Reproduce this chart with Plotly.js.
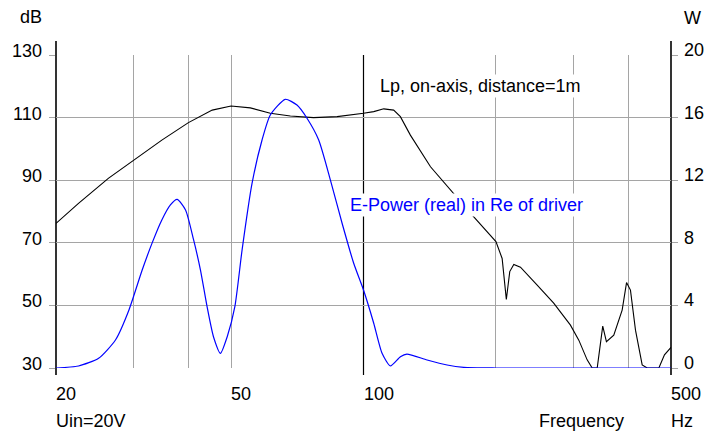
<!DOCTYPE html>
<html>
<head>
<meta charset="utf-8">
<script src="https://cdn.plot.ly/plotly-3.0.1.min.js"></script>
<style>
  html, body { margin: 0; padding: 0; background: #fff; }
  #chart { width: 706px; height: 432px; }
</style>
</head>
<body>
<div id="chart"></div>
<script>
// Sound pressure level, on-axis, 1 m (left axis, dB)
const lpFreq = [20, 22.5, 26.3, 30, 34.8, 40, 45.3, 50, 55.3, 61.4, 68.2, 77.0, 87.1, 100, 105.5, 111.2, 117.1, 121.3, 127.8, 142.0, 157.6, 178.1, 200, 206.6, 211.2, 215.0, 219.6, 227.4, 248.2, 270.6, 295.4, 308.6, 322.4, 331.0, 339.8, 349.8, 356.6, 370.6, 387.2, 396.2, 404.4, 415.2, 430.0, 441.4, 469.2, 483.2, 500];
const lpDb   = [76.2, 82.6, 90.6, 96.2, 102.8, 108.4, 112.4, 113.7, 113.1, 111.4, 110.5, 110.0, 110.3, 111.4, 111.9, 112.8, 112.4, 110.3, 104.4, 94.3, 86.9, 78.3, 70.4, 65.0, 51.9, 60.8, 63.1, 62.2, 56.5, 50.7, 43.7, 38.9, 32.6, 30, 30, 43.4, 38.4, 40.5, 48.5, 57.3, 54.9, 42.1, 31.0, 30, 30, 34.2, 36.6];

// Electrical power (real) in Re of driver (right axis, W)
const pwrFreq = [20, 22.5, 25.0, 27.3, 29.3, 31.4, 33.1, 34.8, 36.4, 37.7, 39.4, 41.1, 42.6, 44.1, 45.6, 47.3, 49.0, 51.0, 53.0, 55.8, 58.8, 61.4, 66.4, 70.6, 74.4, 79.1, 84.1, 89.4, 95.0, 100, 105.5, 110.2, 115.1, 121.3, 125.5, 139.5, 154.9, 169, 200, 300, 400, 500];
const pwrW   = [0, 0.13, 0.62, 1.79, 3.71, 6.26, 8.01, 9.46, 10.42, 10.78, 10.1, 8.18, 6.26, 3.92, 2.0, 0.94, 2.0, 3.92, 7.6, 11.8, 14.57, 16.17, 17.17, 16.8, 15.96, 14.57, 12.01, 9.25, 6.69, 4.98, 2.86, 0.94, 0.13, 0.72, 0.89, 0.51, 0.19, 0.04, 0, 0, 0, 0];

// Axes
const xRange = [20, 500];
const xGrid = [30, 40, 50, 200, 300, 400];
const xBlack = [20, 100, 500];
const xLabels = [20, 50, 100, 500];
const dbTicks = [30, 50, 70, 90, 110, 130];
const wTicks = [0, 4, 8, 12, 16, 20];

const FONT = 'Liberation Sans, Arial, Helvetica, sans-serif';
const FS = 18;
const L = Math.log10;
const GRID = 'rgb(165,165,165)';
const xFrac = f => (L(f) - L(xRange[0])) / (L(xRange[1]) - L(xRange[0]));

const traces = [
  { x: lpFreq, y: lpDb, type: 'scatter', mode: 'lines', yaxis: 'y',
    line: { color: '#000', width: 1.1 }, hoverinfo: 'skip', showlegend: false },
  { x: pwrFreq, y: pwrW, type: 'scatter', mode: 'lines', yaxis: 'y2',
    line: { color: '#0000ff', width: 1.2, shape: 'spline', smoothing: 0.6 }, hoverinfo: 'skip', showlegend: false }
];

const shapes = xBlack.map(f => ({
  type: 'line', xref: 'paper', yref: 'paper', x0: xFrac(f), x1: xFrac(f),
  y0: -7 / 313, y1: (f === 100) ? 1 : 1 + 14 / 313,
  line: { color: '#000', width: (f === 100) ? 1.2 : 1.6 }, layer: 'below'
}));

const ann = [];
const txt = (o) => Object.assign({ showarrow: false, font: { family: FONT, size: FS, color: '#000' } }, o);
dbTicks.forEach(v => ann.push(txt({ text: String(v), xref: 'paper', x: 0, xanchor: 'right', xshift: -12,
  yref: 'y', y: v, yanchor: 'middle', yshift: 4 })));
wTicks.forEach(v => ann.push(txt({ text: String(v), xref: 'paper', x: 1, xanchor: 'left', xshift: 11,
  yref: 'y2', y: v, yanchor: 'middle', yshift: 5 })));
xLabels.forEach(v => ann.push(txt({ text: String(v), xref: 'x', x: L(v), xanchor: 'left', xshift: -2,
  yref: 'paper', y: 0, yanchor: 'middle', yshift: -26 })));
ann.push(txt({ text: 'dB', xref: 'paper', x: 0, xanchor: 'right', xshift: -12, yref: 'paper', y: 1, yanchor: 'middle', yshift: 38 }));
ann.push(txt({ text: 'W', xref: 'paper', x: 1, xanchor: 'left', xshift: 11, yref: 'paper', y: 1, yanchor: 'middle', yshift: 37 }));
ann.push(txt({ text: 'Uin=20V', xref: 'paper', x: 0, xanchor: 'left', xshift: -2, yref: 'paper', y: 0, yanchor: 'middle', yshift: -53 }));
ann.push(txt({ text: 'Frequency', xref: 'x', x: L(300), xanchor: 'center', xshift: 8, yref: 'paper', y: 0, yanchor: 'middle', yshift: -53 }));
ann.push(txt({ text: 'Hz', xref: 'x', x: L(500), xanchor: 'left', xshift: -2, yref: 'paper', y: 0, yanchor: 'middle', yshift: -53 }));
ann.push(txt({ text: 'Lp, on-axis, distance=1m', xref: 'x', x: L(109.3), xanchor: 'left', xshift: -2,
  yref: 'y', y: 120, yanchor: 'middle', bgcolor: '#fff' }));
ann.push(txt({ text: 'E-Power (real) in Re of driver', xref: 'x', x: L(93.4), xanchor: 'left', xshift: -2,
  yref: 'y', y: 82.1, yanchor: 'middle', bgcolor: '#fff', font: { family: FONT, size: FS, color: '#0000ff' } }));

const layout = {
  width: 706, height: 432,
  margin: { l: 56, r: 35, t: 55, b: 64, pad: 0 },
  paper_bgcolor: '#fff', plot_bgcolor: '#fff',
  showlegend: false,
  font: { family: FONT, size: FS, color: '#000' },
  xaxis: { type: 'log', range: [L(xRange[0]), L(xRange[1])], tickvals: xGrid, showticklabels: false,
    showgrid: true, gridcolor: GRID, gridwidth: 1, ticks: '', zeroline: false, showline: false, fixedrange: true },
  yaxis: { range: [30, 130], tickvals: dbTicks, showticklabels: false, showgrid: true, gridcolor: GRID, gridwidth: 1,
    ticks: 'outside', ticklen: 6, tickcolor: GRID, tickwidth: 1, zeroline: false, showline: false, fixedrange: true },
  yaxis2: { range: [0, 20], tickvals: wTicks, showticklabels: false, overlaying: 'y', side: 'right', showgrid: false,
    ticks: 'outside', ticklen: 6, tickcolor: GRID, tickwidth: 1, zeroline: false, showline: false, fixedrange: true },
  shapes: shapes,
  annotations: ann
};

Plotly.newPlot('chart', traces, layout, { displayModeBar: false, staticPlot: true });
</script>
</body>
</html>
